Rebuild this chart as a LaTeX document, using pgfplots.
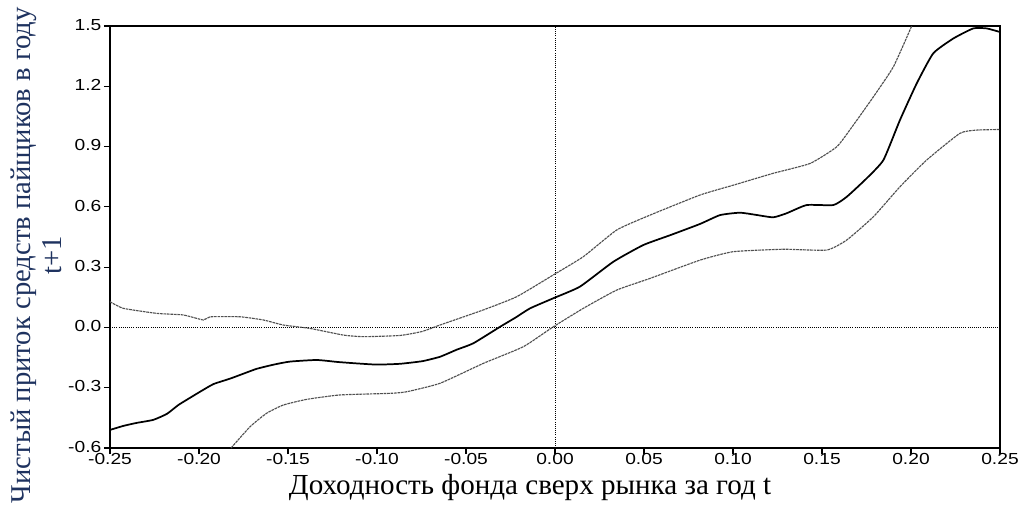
\documentclass[border=0pt]{standalone}
\usepackage{fontspec}
\setmainfont{Liberation Serif}
\newfontfamily\ticksf{Liberation Sans}
\usepackage{graphicx}
\usepackage{pgfplots}
\pgfplotsset{compat=1.18}
\definecolor{labelnavy}{RGB}{30,50,95}
\definecolor{bandgray}{RGB}{80,80,80}
% tick labels: sans, set slightly wide
\newcommand\tl[1]{\scalebox{1.2}[1]{#1}}

\begin{document}
\begin{tikzpicture}
\useasboundingbox (-82.5pt,-50.25pt) rectangle (685.5pt,336pt);
\begin{axis}[
  at={(0,0)}, anchor=south west,
  scale only axis, width=667.5pt, height=316.5pt,
  xmin=-0.25, xmax=0.25, ymin=-0.6, ymax=1.5,
  xtick={-0.25,-0.2,-0.15,-0.1,-0.05,0,0.05,0.1,0.15,0.2,0.25},
  xticklabels={\tl{-0.25},\tl{-0.20},\tl{-0.15},\tl{-0.10},\tl{-0.05},\tl{0.00},\tl{0.05},\tl{0.10},\tl{0.15},\tl{0.20},\tl{0.25}},
  ytick={-0.6,-0.3,0,0.3,0.6,0.9,1.2,1.5},
  yticklabels={\tl{-0.6},\tl{-0.3},\tl{0.0},\tl{0.3},\tl{0.6},\tl{0.9},\tl{1.2},\tl{1.5}},
  xtick pos=bottom, ytick pos=left,
  tick align=outside, major tick length=4.5pt,
  tick style={black, line width=0.8pt},
  every tick label/.append style={font=\ticksf\fontsize{12}{14}\selectfont},
  xticklabel style={yshift=2.3pt, inner sep=1.8pt},
  yticklabel style={inner sep=1.8pt, yshift=1pt},
  axis line style={line width=1pt},
  xlabel={Доходность фонда сверх рынка за год t},
  xlabel style={at={(axis description cs:0.472,-0.093)}, anchor=center,
    font=\fontsize{21.8}{23.5}\selectfont},
  ylabel={Чистый приток средств пайщиков в году\\t+1},
  ylabel style={at={(axis description cs:-0.083,0.457)}, anchor=center,
    align=center, font=\fontsize{21.5}{23}\selectfont, text=labelnavy},
]
% zero reference lines
\addplot[black, line width=0.6pt, densely dotted] coordinates {(-0.25,0) (0.25,0)};
\addplot[black, line width=0.6pt, densely dotted] coordinates {(0,-0.6) (0,1.5)};

% upper confidence band
\addplot[bandgray, line width=0.85pt, dash pattern=on 2pt off 0.6pt, smooth, tension=0.3] coordinates {
(-0.25,0.128) (-0.2425,0.095) (-0.2237,0.07) (-0.2088,0.062) (-0.1975,0.037)
(-0.1938,0.053) (-0.177,0.053) (-0.1638,0.037) (-0.1526,0.012) (-0.1376,-0.005)
(-0.1189,-0.038) (-0.1076,-0.046) (-0.0871,-0.040) (-0.0746,-0.02) (-0.0646,0.012)
(-0.0403,0.087) (-0.0215,0.153) (-0.001,0.261) (0.0159,0.352) (0.0347,0.485)
(0.0534,0.559) (0.0815,0.659) (0.1002,0.708) (0.1226,0.767) (0.1433,0.816)
(0.1583,0.899) (0.1676,1.007) (0.1789,1.148) (0.1901,1.297) (0.2004,1.5)
};

% lower confidence band
\addplot[bandgray, line width=0.85pt, dash pattern=on 2pt off 0.6pt, smooth, tension=0.3] coordinates {
(-0.182,-0.6) (-0.1713,-0.494) (-0.162,-0.427) (-0.1526,-0.386) (-0.1395,-0.358)
(-0.1208,-0.336) (-0.0927,-0.328) (-0.0833,-0.32) (-0.0646,-0.278) (-0.0403,-0.179)
(-0.0178,-0.096) (-0.001,0.003) (0.0159,0.095) (0.0347,0.186) (0.0534,0.244)
(0.0815,0.335) (0.1002,0.377) (0.1283,0.389) (0.1526,0.385) (0.1639,0.435)
(0.1789,0.551) (0.1938,0.70) (0.2088,0.833) (0.2275,0.966) (0.2369,0.982)
(0.25,0.985)
};

% kernel estimate
\addplot[black, line width=1.3pt, smooth, tension=0.3] coordinates {
(-0.25,-0.51) (-0.2425,-0.49) (-0.235,-0.475) (-0.2257,-0.46) (-0.218,-0.43)
(-0.2116,-0.386) (-0.205,-0.35) (-0.1994,-0.32) (-0.1919,-0.282) (-0.1826,-0.255)
(-0.175,-0.23) (-0.1676,-0.206) (-0.158,-0.185) (-0.1489,-0.17) (-0.1339,-0.162)
(-0.122,-0.172) (-0.1114,-0.179) (-0.1,-0.185) (-0.0871,-0.181) (-0.0746,-0.168)
(-0.0646,-0.146) (-0.055,-0.11) (-0.0459,-0.079) (-0.0309,0.003) (-0.022,0.05)
(-0.014,0.095) (-0.001,0.145) (0.014,0.203) (0.0328,0.327) (0.0496,0.41)
(0.065,0.46) (0.0815,0.515) (0.0927,0.559) (0.1039,0.571) (0.113,0.56)
(0.1226,0.548) (0.1301,0.568) (0.1414,0.609) (0.1564,0.609) (0.1639,0.65)
(0.1751,0.742) (0.1845,0.833) (0.1938,1.032) (0.2032,1.214) (0.2125,1.364)
(0.2238,1.438) (0.235,1.488) (0.2425,1.488) (0.25,1.47)
};
\end{axis}
\end{tikzpicture}
\end{document}
